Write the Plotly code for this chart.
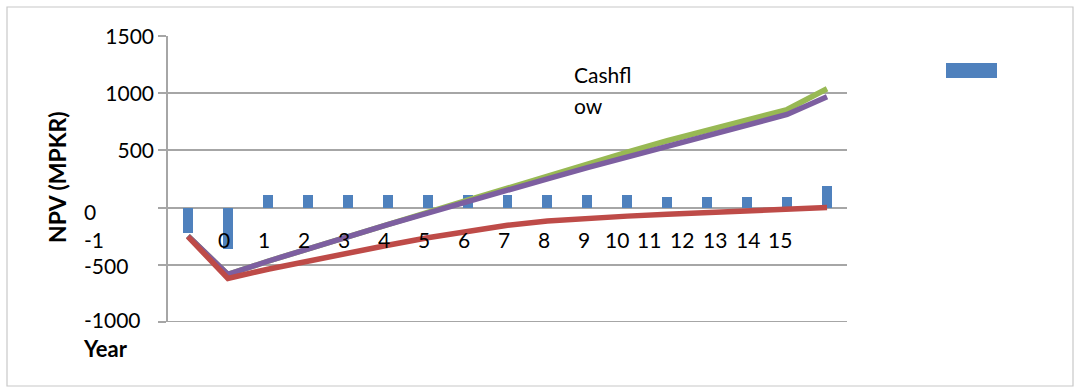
import plotly.graph_objects as go

# ---- data -------------------------------------------------------------
years = ["-1", "0", "1", "2", "3", "4", "5", "6", "7", "8", "9",
         "10", "11", "12", "13", "14", "15", "16"]
periods = list(range(17))  # one slot per bar / line point

cashflow = [-220, -367, 113, 113, 113, 113, 113, 113, 113, 113, 113,
            113, 95, 95, 95, 95, 190]
npv_green = [-250, -585, -470, -360, -252, -148, -42, 64, 172, 278,
             385, 485, 585, 680, 770, 858, 1040]
npv_purple = [-250, -585, -470, -360, -252, -150, -48, 55, 155, 252,
              350, 445, 538, 630, 722, 815, 970]
npv_red = [-255, -620, -540, -468, -400, -330, -265, -205, -155, -118,
           -93, -75, -58, -45, -32, -20, 0]

y_ticks = [-1000, -500, 0, 500, 1000, 1500]

# ---- geometry helpers -------------------------------------------------
W, H = 1077, 388
L, R, T, B = 168, 230, 36, 66
PW, PH = W - L - R, H - T - B


def px_x(px):
    return (px - L) / PW


def px_y(py):
    return (H - B - py) / PH


FONT = "Lato"
GRID = "#a6a6a6"
LBL = dict(size=21, color="black")

fig = go.Figure()

fig.add_trace(go.Bar(x=periods, y=cashflow, width=0.25,
                     marker=dict(color="#4F81BD", line=dict(width=0)),
                     name="Cashflow"))
fig.add_trace(go.Scatter(x=periods, y=npv_green, mode="lines",
                         line=dict(color="#98B954", width=5.5)))
fig.add_trace(go.Scatter(x=periods, y=npv_purple, mode="lines",
                         line=dict(color="#7D5FA0", width=5.5)))
fig.add_trace(go.Scatter(x=periods, y=npv_red, mode="lines",
                         line=dict(color="#BE4B48", width=5.5)))

annotations = []

# year labels along the zero line; two-digit labels are packed tighter
pos = 0.91
for lab in years[1:17]:
    annotations.append(dict(x=pos, y=px_y(239), xref="x", yref="paper",
                            text=lab, showarrow=False, xanchor="center",
                            yanchor="middle", font=LBL))
    pos += 1.0 if len(lab) == 1 and lab != "9" else 0.82
annotations.append(dict(x=px_x(82), y=px_y(239), xref="paper", yref="paper",
                        text=years[0], showarrow=False, xanchor="left",
                        yanchor="middle", font=LBL))

# left-aligned value labels for the lower gridlines
for v, py in [(0, 211), (-500, 265), (-1000, 319)]:
    annotations.append(dict(x=px_x(82), y=px_y(py), xref="paper", yref="paper",
                            text=str(v), showarrow=False, xanchor="left",
                            yanchor="middle", font=LBL))

annotations.append(dict(x=px_x(105), y=px_y(348), xref="paper", yref="paper",
                        text="<b>Year</b>", showarrow=False, xanchor="center",
                        yanchor="middle", font=dict(size=22, color="black")))
annotations.append(dict(x=px_x(57), y=px_y(177), xref="paper", yref="paper",
                        text="<b>NPV (MPKR)</b>", textangle=-90, showarrow=False,
                        xanchor="center", yanchor="middle",
                        font=dict(size=23, color="black")))
annotations.append(dict(x=px_x(572), y=px_y(74), xref="paper", yref="paper",
                        text="Cashfl", showarrow=False, xanchor="left",
                        yanchor="middle", font=LBL))
annotations.append(dict(x=px_x(572), y=px_y(105), xref="paper", yref="paper",
                        text="ow", showarrow=False, xanchor="left",
                        yanchor="middle", font=LBL))

shapes = [
    # bottom gridline (sits on the range edge)
    dict(type="line", xref="paper", yref="y", x0=0, x1=1,
         y0=y_ticks[0], y1=y_ticks[0], line=dict(color=GRID, width=1.5),
         layer="below"),
    # legend key
    dict(type="rect", xref="paper", yref="paper",
         x0=px_x(946), x1=px_x(997), y0=px_y(78), y1=px_y(63),
         fillcolor="#4F81BD", line=dict(width=0)),
    # chart frame
    dict(type="rect", xref="paper", yref="paper",
         x0=px_x(7), x1=px_x(1073), y0=px_y(386), y1=px_y(7),
         fillcolor="rgba(0,0,0,0)", line=dict(color="#c8c8c8", width=1.2)),
]

fig.update_layout(
    width=W, height=H,
    margin=dict(l=L, r=R, t=T, b=B, pad=0),
    paper_bgcolor="white", plot_bgcolor="white",
    showlegend=False,
    font=dict(family=FONT, size=21, color="black"),
    annotations=annotations,
    shapes=shapes,
    bargap=0,
)
fig.update_xaxes(range=[-0.5, 16.5], showticklabels=False, showgrid=False,
                 zeroline=False, showline=False, ticks="", fixedrange=True)
fig.update_yaxes(range=[-1002, 1502], tickvals=y_ticks,
                 ticktext=["", "", "", "500", "1000", "1500"],
                 showgrid=True, gridcolor=GRID, gridwidth=1.5,
                 zeroline=True, zerolinecolor=GRID, zerolinewidth=1.5,
                 showline=True, linecolor=GRID, linewidth=1.5,
                 ticks="outside", ticklen=8, tickcolor=GRID, tickwidth=1.5,
                 tickfont=LBL, fixedrange=True)

fig.write_html("out.html", config={"displayModeBar": False})
